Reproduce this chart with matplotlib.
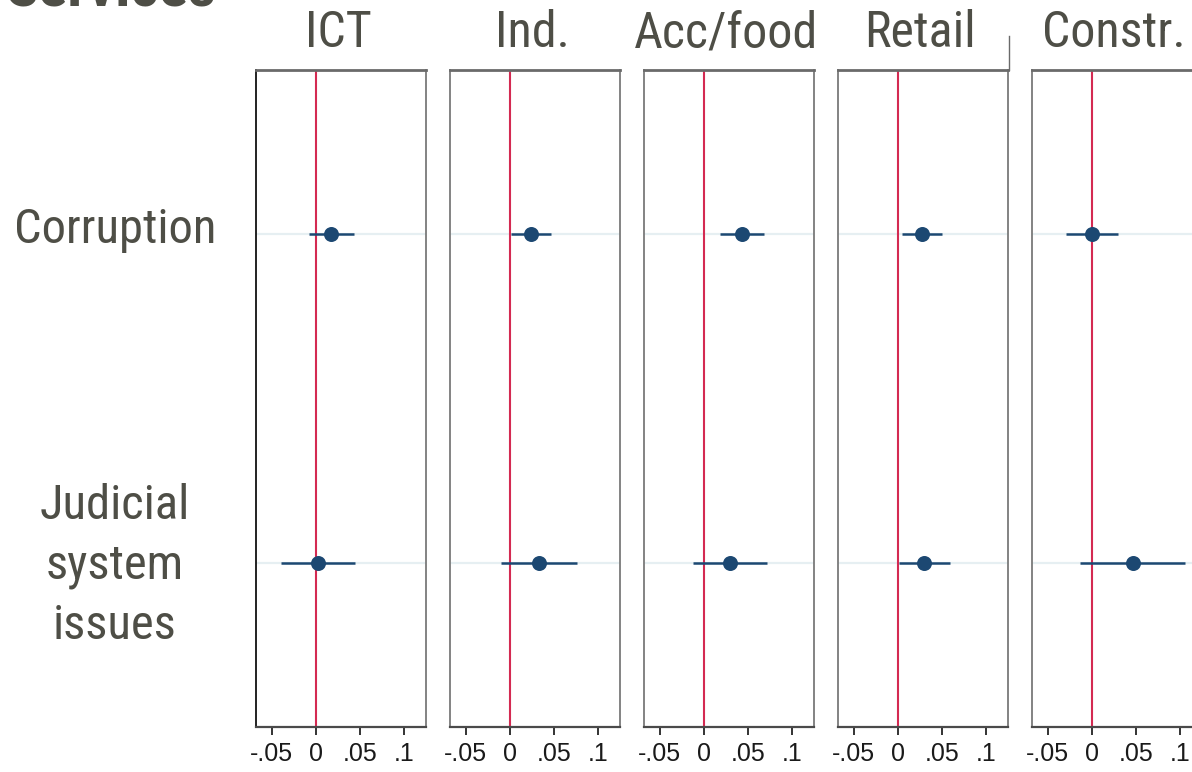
import matplotlib
matplotlib.use("Agg")
import matplotlib.pyplot as plt
from matplotlib.lines import Line2D
from matplotlib import font_manager

# Coefficient estimates with 95% confidence intervals, by sector
sectors = ["ICT", "Ind.", "Acc/food", "Retail", "Constr."]
obstacles = ["Corruption", "Judicial\nsystem\nissues"]

coef_corruption = [0.017, 0.024, 0.043, 0.027, 0.000]
lo_corruption = [-0.008, 0.001, 0.018, 0.005, -0.029]
hi_corruption = [0.043, 0.047, 0.068, 0.050, 0.030]

coef_judicial = [0.002, 0.033, 0.030, 0.030, 0.047]
lo_judicial = [-0.040, -0.010, -0.012, 0.001, -0.014]
hi_judicial = [0.044, 0.076, 0.072, 0.059, 0.106]

xticks = [-0.05, 0.0, 0.05, 0.1]
xticklabels = ["-.05", "0", ".05", ".1"]

W, H = 1192, 772
fig = plt.figure(figsize=(W / 100, H / 100), dpi=100)
fig.patch.set_facecolor("white")

TEXT = "#4e4e46"
MARK = "#1c4872"
REGULAR = ["Liberation Sans", "DejaVu Sans"]

# Prefer a narrow sans face for the large labels; otherwise shrink the regular one
available = {f.name for f in font_manager.fontManager.ttflist}
narrow_face = None
for cand in ["Liberation Sans Narrow", "Arial Narrow", "Roboto Condensed",
             "Open Sans Condensed", "DejaVu Sans Condensed"]:
    if cand in available:
        narrow_face = cand
        break
if narrow_face is not None:
    BIG_FAMILY = [narrow_face, "Liberation Sans", "DejaVu Sans"]
    title_size, label_size, line_sp = 36, 35, 1.37
else:
    BIG_FAMILY = REGULAR
    title_size, label_size, line_sp = 32, 31, 1.55


def px_box(x0, y0, w, h):
    return [x0 / W, 1 - (y0 + h) / H, w / W, h / H]


panel_left = [256, 450, 644, 838, 1032]
panel_w, panel_top, panel_bottom = 170, 70, 727

coefs = [coef_corruption, coef_judicial]
los = [lo_corruption, lo_judicial]
his = [hi_corruption, hi_judicial]
ypos = [1, 2]

for i, name in enumerate(sectors):
    ax = fig.add_axes(px_box(panel_left[i], panel_top, panel_w, panel_bottom - panel_top))
    ax.set_xlim(-0.068, 0.125)
    ax.set_ylim(2.5, 0.5)
    for y in ypos:
        ax.axhline(y, color="#e6eff2", lw=1.6, zorder=1)
    ax.axvline(0, color="#d42a52", lw=1.5, zorder=2)
    for j, y in enumerate(ypos):
        ax.plot([los[j][i], his[j][i]], [y, y], color=MARK, lw=1.8,
                solid_capstyle="butt", zorder=3)
        ax.plot([coefs[j][i]], [y], "o", color=MARK, ms=10.8, mew=0, zorder=4)
    ax.set_yticks([])
    ax.set_xticks(xticks)
    ax.set_xticklabels(xticklabels, family=REGULAR, fontsize=18, color="#1a1a1a")
    ax.tick_params(axis="x", length=6, width=1.4, color="#333333", pad=5)
    ax.spines["top"].set_color("#6a6a6a")
    ax.spines["top"].set_linewidth(2.0)
    ax.spines["bottom"].set_color("#4a4a4a")
    ax.spines["bottom"].set_linewidth(1.6)
    ax.spines["right"].set_color("#7a7a7a")
    ax.spines["right"].set_linewidth(1.3)
    ax.spines["left"].set_color("#111111" if i == 0 else "#7a7a7a")
    ax.spines["left"].set_linewidth(1.3)
    fig.text((panel_left[i] + panel_w / 2 - 3) / W, 1 - 47 / H, name,
             ha="center", va="baseline", family=BIG_FAMILY,
             fontsize=title_size, color=TEXT)

# Row labels on the left
fig.text(115 / W, 1 - 243 / H, obstacles[0], ha="center", va="baseline",
         family=BIG_FAMILY, fontsize=label_size, color=TEXT)
fig.text(115 / W, 1 - 566 / H, obstacles[1], ha="center", va="center",
         family=BIG_FAMILY, fontsize=label_size, color=TEXT,
         linespacing=line_sp)

# Panel title running off the top edge
fig.text(216 / W, 1 - 6 / H, "Services", ha="right", va="baseline",
         family=BIG_FAMILY, fontsize=44, fontweight="bold", color=TEXT)

# Short frame segment above the Retail panel
fig.add_artist(Line2D([1009 / W, 1009 / W], [1 - 36 / H, 1 - 70 / H],
                      color="#6a6a6a", lw=1.0))

fig.savefig("out.png", dpi=100, facecolor="white")
